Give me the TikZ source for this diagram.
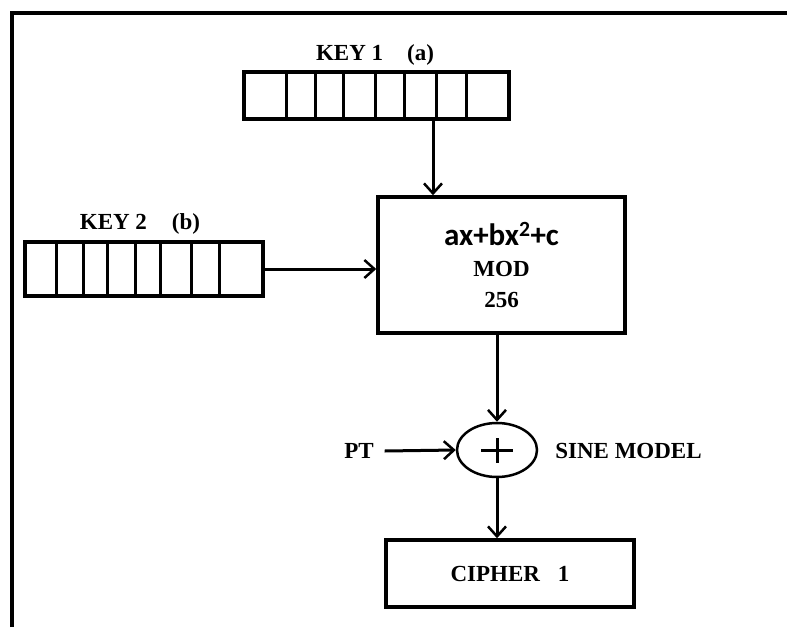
\documentclass[tikz,border=0pt]{standalone}
\usepackage{fontspec}
\setmainfont{Liberation Serif}
\newfontfamily\sansbold{Carlito}
\usepackage{tikz}
\usetikzlibrary{arrows.meta, shapes.geometric}

\begin{document}
\begin{tikzpicture}[x=1pt, y=-1pt, line width=3pt,
        >={Straight Barb[length=10pt, width=18pt, line width=2.5pt]},
        box/.style={draw, rectangle, line width=3.5pt, inner sep=0pt},
        lbl/.style={font=\fontsize{23}{31}\selectfont\bfseries}]
            \useasboundingbox (0,0) rectangle (787,627);
            \draw[line width=4pt] (11.5,627) -- (11.5,13) -- (787,13);
            \node[box, minimum width=265pt, minimum height=47pt] (K_1) at (376.5,95.5) {};
            \node[box, minimum width=238pt, minimum height=54pt] (K_2) at (144,269) {};
            \foreach \d in {44,73,101,133,162,194,224} \draw (K_1.north west) ++(\d,0) -- ++(0,47);
            \foreach \d in {33,60,84,112,137,168,196} \draw (K_2.north west) ++(\d,0) -- ++(0,54);
            \node[lbl] (L_1) at (375,55) {KEY 1\hspace{24pt}(a)};
            \node[lbl] (L_2) at (140,224) {KEY 2\hspace{25pt}(b)};
            \node[box, lbl, align=center, minimum width=247pt, minimum height=136pt] (M) at (501.5,265)
                {{\sansbold\fontsize{31}{31}\selectfont ax+bx\textsuperscript{2}+c}\\MOD\\256};
            \node[draw, ellipse, line width=2.5pt, inner sep=0pt, minimum width=80pt, minimum height=54pt] (X) at (497,450) {};
            \draw ([xshift=-16pt]X.center) -- ([xshift=16pt]X.center);
            \draw ([yshift=-12.5pt]X.center) -- ([yshift=12.5pt]X.center);
            \node[lbl] (P) at (359,451) {PT};
            \node[lbl] (S) at (628.5,451) {SINE MODEL};
            \node[box, lbl, minimum width=248pt, minimum height=67pt] (C) at (510,573.5) {CIPHER\hspace{18pt}1\hspace{26pt}};
            \draw[->] ([xshift=56.5pt]K_1.south) -- ([xshift=56.5pt]K_1.south |- M.north);
            \draw[->] (K_2.east) -- (K_2.east -| M.west);
            \draw[->] (X.north |- M.south) -- (X.north);
            \draw[->] ([xshift=6pt]P.east) -- (X.west);
            \draw[->] (X.south) -- (X.south |- C.north);
\end{tikzpicture}
\end{document}
